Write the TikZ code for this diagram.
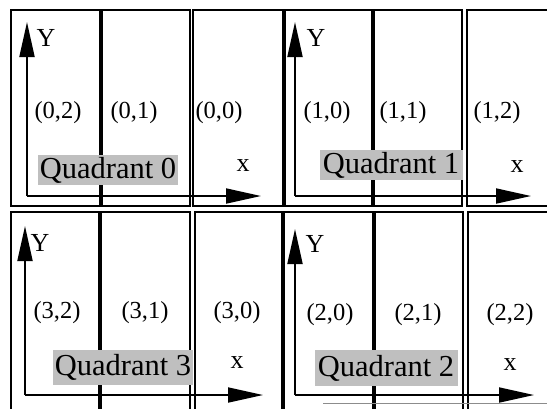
\documentclass[tikz,border=0pt]{standalone}
\usepackage{fontspec}
\setmainfont{Liberation Serif}
\usepackage{tikz}
\usetikzlibrary{arrows.meta}
\tikzset{
	frame/.style={line width=1.6pt, color=black},
	divider/.style={line width=3.6pt, color=black},
	axis/.style={line width=1.8pt, -{Triangle[length=35pt, width=15pt]}},
	cell/.style={inner sep=0pt, font=\fontsize{24.5}{26}\selectfont},
	letter/.style={inner sep=0pt, font=\fontsize{26}{28}\selectfont},
	quadlabel/.style={fill=black!25, inner sep=0pt, minimum width=140pt, minimum height=30pt, font=\fontsize{30.5}{32}\selectfont}
}

\begin{document}
\begin{tikzpicture}[x=1pt, y=-1pt]
			%%%%% START %%%%%
			\useasboundingbox[fill=white] (0, 0) rectangle (547, 408);
			
			% top row
			\draw[frame] (11, 10) rectangle (190, 206);
			\draw[frame] (193, 10) rectangle (462, 206);
			\draw[frame] (467, 10) rectangle (560, 206);
			\draw[divider] (101, 10) -- (101, 206);
			\draw[divider] (284, 10) -- (284, 206);
			\draw[divider] (373, 10) -- (373, 206);
			
			% bottom row
			\draw[frame] (11, 212) rectangle (190, 420);
			\draw[frame] (195, 212) rectangle (463, 420);
			\draw[frame] (468, 212) rectangle (560, 420);
			\draw[divider] (100, 212) -- (100, 420);
			\draw[divider] (283, 212) -- (283, 420);
			\draw[divider] (374, 212) -- (374, 420);
			\draw[line width=0.8pt, color=black!45] (323, 403) -- (547, 403);
			
			% axes
			\coordinate (o0) at (27, 196);
			\coordinate (y0) at (27, 22);
			\coordinate (x0) at (261, 196);
			\coordinate (o1) at (295, 196);
			\coordinate (y1) at (295, 22);
			\coordinate (x1) at (531, 196);
			\coordinate (o3) at (25, 395);
			\coordinate (y3) at (25, 226);
			\coordinate (x3) at (263, 395);
			\coordinate (o2) at (295, 395);
			\coordinate (y2) at (295, 229);
			\coordinate (x2) at (534, 395);
			\draw[axis] (o0) -- (y0);
			\draw[axis] (o0) -- (x0);
			\draw[axis] (o1) -- (y1);
			\draw[axis] (o1) -- (x1);
			\draw[axis] (o3) -- (y3);
			\draw[axis] (o3) -- (x3);
			\draw[axis] (o2) -- (y2);
			\draw[axis] (o2) -- (x2);
			
			% quadrant 0
			\node[letter] (Y0) at (46, 38) {Y};
			\node[cell] (c02) at (58, 113) {(0,2)};
			\node[cell] (c01) at (134, 113) {(0,1)};
			\node[cell] (c00) at (219, 113) {(0,0)};
			\node[letter] (X0) at (243, 166) {x};
			\node[quadlabel] (q0) at (108, 170) {Quadrant 0};
			
			% quadrant 1
			\node[letter] (Y1) at (316, 38) {Y};
			\node[cell] (c10) at (327, 113) {(1,0)};
			\node[cell] (c11) at (403, 113) {(1,1)};
			\node[cell] (c12) at (497, 113) {(1,2)};
			\node[letter] (X1) at (517, 167) {x};
			\node[quadlabel, minimum width=143pt] (q1) at (391, 165) {Quadrant 1};
			
			% quadrant 3
			\node[letter] (Y3) at (40, 243) {Y};
			\node[cell] (c32) at (57, 313) {(3,2)};
			\node[cell] (c31) at (145, 313) {(3,1)};
			\node[cell] (c30) at (237, 313) {(3,0)};
			\node[letter] (X3) at (237, 363) {x};
			\node[quadlabel, minimum height=35pt] (q3) at (123, 367) {Quadrant 3};
			
			% quadrant 2
			\node[letter] (Y2) at (315, 244) {Y};
			\node[cell] (c20) at (330, 315) {(2,0)};
			\node[cell] (c21) at (418, 315) {(2,1)};
			\node[cell] (c22) at (510, 315) {(2,2)};
			\node[letter] (X2) at (510, 365) {x};
			\node[quadlabel, minimum width=143pt, minimum height=36pt] (q2) at (386, 368) {Quadrant 2};
			
			%%%%% END %%%%%
\end{tikzpicture}
\end{document}
